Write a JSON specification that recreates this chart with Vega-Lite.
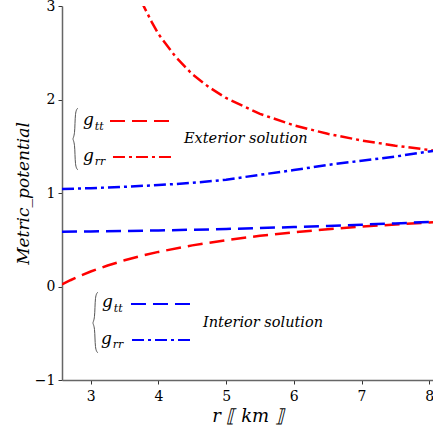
{
  "$schema": "https://vega.github.io/schema/vega-lite/v6.json",
  "width": 371,
  "height": 374,
  "autosize": {"type": "none"},
  "padding": {"left": 62, "top": 6, "right": 0, "bottom": 54},
  "background": "white",
  "config": {"view": {"stroke": null}, "font": "DejaVu Serif"},
  "datasets": {
    "curves": [
      {"sol": "Exterior", "kind": "tt", "r": 2.576, "g": 0.022},
      {"sol": "Exterior", "kind": "tt", "r": 2.7, "g": 0.067},
      {"sol": "Exterior", "kind": "tt", "r": 2.85, "g": 0.116},
      {"sol": "Exterior", "kind": "tt", "r": 3.0, "g": 0.16},
      {"sol": "Exterior", "kind": "tt", "r": 3.25, "g": 0.225},
      {"sol": "Exterior", "kind": "tt", "r": 3.5, "g": 0.28},
      {"sol": "Exterior", "kind": "tt", "r": 3.75, "g": 0.328},
      {"sol": "Exterior", "kind": "tt", "r": 4.0, "g": 0.37},
      {"sol": "Exterior", "kind": "tt", "r": 4.5, "g": 0.44},
      {"sol": "Exterior", "kind": "tt", "r": 5.0, "g": 0.496},
      {"sol": "Exterior", "kind": "tt", "r": 5.5, "g": 0.542},
      {"sol": "Exterior", "kind": "tt", "r": 6.0, "g": 0.58},
      {"sol": "Exterior", "kind": "tt", "r": 6.5, "g": 0.612},
      {"sol": "Exterior", "kind": "tt", "r": 7.0, "g": 0.64},
      {"sol": "Exterior", "kind": "tt", "r": 7.5, "g": 0.664},
      {"sol": "Exterior", "kind": "tt", "r": 8.0, "g": 0.685},
      {"sol": "Exterior", "kind": "tt", "r": 8.056, "g": 0.687},
      {"sol": "Exterior", "kind": "rr", "r": 3.74, "g": 3.06},
      {"sol": "Exterior", "kind": "rr", "r": 3.9, "g": 2.83},
      {"sol": "Exterior", "kind": "rr", "r": 4.0, "g": 2.7},
      {"sol": "Exterior", "kind": "rr", "r": 4.25, "g": 2.46},
      {"sol": "Exterior", "kind": "rr", "r": 4.5, "g": 2.27},
      {"sol": "Exterior", "kind": "rr", "r": 4.75, "g": 2.13},
      {"sol": "Exterior", "kind": "rr", "r": 5.0, "g": 2.016},
      {"sol": "Exterior", "kind": "rr", "r": 5.5, "g": 1.846},
      {"sol": "Exterior", "kind": "rr", "r": 6.0, "g": 1.724},
      {"sol": "Exterior", "kind": "rr", "r": 6.5, "g": 1.633},
      {"sol": "Exterior", "kind": "rr", "r": 7.0, "g": 1.562},
      {"sol": "Exterior", "kind": "rr", "r": 7.5, "g": 1.506},
      {"sol": "Exterior", "kind": "rr", "r": 8.0, "g": 1.46},
      {"sol": "Exterior", "kind": "rr", "r": 8.056, "g": 1.455},
      {"sol": "Interior", "kind": "tt", "r": 2.576, "g": 0.586},
      {"sol": "Interior", "kind": "tt", "r": 3.0, "g": 0.589},
      {"sol": "Interior", "kind": "tt", "r": 3.5, "g": 0.594},
      {"sol": "Interior", "kind": "tt", "r": 4.0, "g": 0.6},
      {"sol": "Interior", "kind": "tt", "r": 4.5, "g": 0.607},
      {"sol": "Interior", "kind": "tt", "r": 5.0, "g": 0.615},
      {"sol": "Interior", "kind": "tt", "r": 5.5, "g": 0.625},
      {"sol": "Interior", "kind": "tt", "r": 6.0, "g": 0.636},
      {"sol": "Interior", "kind": "tt", "r": 6.5, "g": 0.648},
      {"sol": "Interior", "kind": "tt", "r": 7.0, "g": 0.661},
      {"sol": "Interior", "kind": "tt", "r": 7.5, "g": 0.675},
      {"sol": "Interior", "kind": "tt", "r": 8.0, "g": 0.69},
      {"sol": "Interior", "kind": "tt", "r": 8.056, "g": 0.692},
      {"sol": "Interior", "kind": "rr", "r": 2.576, "g": 1.043},
      {"sol": "Interior", "kind": "rr", "r": 3.0, "g": 1.052},
      {"sol": "Interior", "kind": "rr", "r": 3.5, "g": 1.066},
      {"sol": "Interior", "kind": "rr", "r": 4.0, "g": 1.085},
      {"sol": "Interior", "kind": "rr", "r": 4.5, "g": 1.108},
      {"sol": "Interior", "kind": "rr", "r": 5.0, "g": 1.142},
      {"sol": "Interior", "kind": "rr", "r": 5.5, "g": 1.195},
      {"sol": "Interior", "kind": "rr", "r": 6.0, "g": 1.245},
      {"sol": "Interior", "kind": "rr", "r": 6.5, "g": 1.3},
      {"sol": "Interior", "kind": "rr", "r": 7.0, "g": 1.345},
      {"sol": "Interior", "kind": "rr", "r": 7.5, "g": 1.39},
      {"sol": "Interior", "kind": "rr", "r": 8.0, "g": 1.445},
      {"sol": "Interior", "kind": "rr", "r": 8.056, "g": 1.45}
    ],
    "samples": [
      {"sol": "Exterior", "kind": "tt", "r": 3.285, "g": 1.77},
      {"sol": "Exterior", "kind": "tt", "r": 4.186, "g": 1.77},
      {"sol": "Exterior", "kind": "rr", "r": 3.329, "g": 1.385},
      {"sol": "Exterior", "kind": "rr", "r": 4.186, "g": 1.385},
      {"sol": "Interior", "kind": "tt", "r": 3.595, "g": -0.187},
      {"sol": "Interior", "kind": "tt", "r": 4.481, "g": -0.187},
      {"sol": "Interior", "kind": "rr", "r": 3.61, "g": -0.572},
      {"sol": "Interior", "kind": "rr", "r": 4.467, "g": -0.572}
    ],
    "braces": [
      {"sol": "Exterior", "i": 0, "r": 2.812, "g": 1.909},
      {"sol": "Exterior", "i": 1, "r": 2.768, "g": 1.877},
      {"sol": "Exterior", "i": 2, "r": 2.768, "g": 1.61},
      {"sol": "Exterior", "i": 3, "r": 2.724, "g": 1.578},
      {"sol": "Exterior", "i": 4, "r": 2.768, "g": 1.545},
      {"sol": "Exterior", "i": 5, "r": 2.768, "g": 1.278},
      {"sol": "Exterior", "i": 6, "r": 2.812, "g": 1.246},
      {"sol": "Interior", "i": 0, "r": 3.108, "g": -0.059},
      {"sol": "Interior", "i": 1, "r": 3.063, "g": -0.091},
      {"sol": "Interior", "i": 2, "r": 3.063, "g": -0.358},
      {"sol": "Interior", "i": 3, "r": 3.019, "g": -0.39},
      {"sol": "Interior", "i": 4, "r": 3.063, "g": -0.422},
      {"sol": "Interior", "i": 5, "r": 3.063, "g": -0.679},
      {"sol": "Interior", "i": 6, "r": 3.108, "g": -0.711}
    ],
    "gs": [
      {"r": 2.886, "g": 1.781, "t": "g"},
      {"r": 2.886, "g": 1.396, "t": "g"},
      {"r": 3.167, "g": -0.166, "t": "g"},
      {"r": 3.152, "g": -0.561, "t": "g"}
    ],
    "subs": [
      {"r": 3.06, "g": 1.706, "t": "tt"},
      {"r": 3.06, "g": 1.332, "t": "rr"},
      {"r": 3.341, "g": -0.241, "t": "tt"},
      {"r": 3.326, "g": -0.626, "t": "rr"}
    ],
    "notes": [
      {"r": 4.378, "g": 1.578, "t": "Exterior solution"},
      {"r": 4.659, "g": -0.39, "t": "Interior solution"}
    ]
  },
  "layer": [
    {
      "data": {"name": "curves"},
      "mark": {"type": "line", "strokeWidth": 2.5, "clip": true},
      "encoding": {
        "x": {
          "field": "r", "type": "quantitative",
          "scale": {"domain": [2.576, 8.056], "nice": false, "zero": false},
          "axis": {
            "values": [3, 3.5, 4, 4.5, 5, 5.5, 6, 6.5, 7, 7.5, 8],
            "format": "d",
            "labelExpr": "datum.value % 1 === 0 ? datum.label : ''",
            "grid": false, "domainColor": "#666666", "domainWidth": 1.5,
            "tickColor": "#333333", "tickSize": 4, "tickWidth": 1,
            "labelFont": "DejaVu Serif", "labelFontSize": 14, "labelColor": "black", "labelPadding": 5,
            "title": "r ⟦ km ⟧", "titleFont": "DejaVu Serif", "titleFontStyle": "italic",
            "titleFontWeight": "normal", "titleFontSize": 18, "titleColor": "black", "titlePadding": 4
          }
        },
        "y": {
          "field": "g", "type": "quantitative",
          "scale": {"domain": [-1, 3], "nice": false, "zero": false},
          "axis": {
            "values": [-1, -0.5, 0, 0.5, 1, 1.5, 2, 2.5, 3],
            "format": "d",
            "labelExpr": "datum.value % 1 === 0 ? datum.label : ''",
            "grid": false, "domainColor": "#666666", "domainWidth": 1.5,
            "tickColor": "#333333", "tickSize": 4, "tickWidth": 1,
            "labelFont": "DejaVu Serif", "labelFontSize": 14, "labelColor": "black", "labelPadding": 3,
            "title": "Metric_potential", "titleFont": "DejaVu Serif", "titleFontStyle": "italic",
            "titleFontWeight": "normal", "titleFontSize": 17, "titleColor": "black",
            "titleX": -39, "titleY": 187, "titleAngle": -90, "titleAlign": "center", "titleBaseline": "middle"
          }
        },
        "color": {
          "field": "sol", "type": "nominal",
          "scale": {"domain": ["Exterior", "Interior"], "range": ["#ff0000", "#0000ff"]},
          "legend": null
        },
        "strokeDash": {
          "field": "kind", "type": "nominal",
          "scale": {"domain": ["tt", "rr"], "range": [[15, 7], [12, 4, 3, 4]]},
          "legend": null
        }
      }
    },
    {
      "data": {"name": "samples"},
      "mark": {"type": "line", "strokeWidth": 2},
      "encoding": {
        "x": {"field": "r", "type": "quantitative"},
        "y": {"field": "g", "type": "quantitative"},
        "color": {"field": "sol", "type": "nominal", "legend": null},
        "strokeDash": {"field": "kind", "type": "nominal", "legend": null}
      }
    },
    {
      "data": {"name": "braces"},
      "mark": {"type": "line", "interpolate": "basis", "color": "#555555", "strokeWidth": 1},
      "encoding": {
        "x": {"field": "r", "type": "quantitative"},
        "y": {"field": "g", "type": "quantitative"},
        "detail": {"field": "sol", "type": "nominal"},
        "order": {"field": "i", "type": "quantitative"}
      }
    },
    {
      "data": {"name": "gs"},
      "mark": {"type": "text", "font": "DejaVu Serif", "fontStyle": "italic", "fontSize": 17, "align": "left", "baseline": "middle", "color": "black"},
      "encoding": {
        "x": {"field": "r", "type": "quantitative"},
        "y": {"field": "g", "type": "quantitative"},
        "text": {"field": "t"}
      }
    },
    {
      "data": {"name": "subs"},
      "mark": {"type": "text", "font": "DejaVu Serif", "fontStyle": "italic", "fontSize": 11, "align": "left", "baseline": "middle", "color": "black"},
      "encoding": {
        "x": {"field": "r", "type": "quantitative"},
        "y": {"field": "g", "type": "quantitative"},
        "text": {"field": "t"}
      }
    },
    {
      "data": {"name": "notes"},
      "mark": {"type": "text", "font": "DejaVu Serif", "fontStyle": "italic", "fontSize": 14.5, "align": "left", "baseline": "middle", "color": "black"},
      "encoding": {
        "x": {"field": "r", "type": "quantitative"},
        "y": {"field": "g", "type": "quantitative"},
        "text": {"field": "t"}
      }
    },
    {
      "mark": {"type": "rule", "color": "#666666", "strokeWidth": 1.5},
      "encoding": {"y": {"datum": 3}}
    }
  ]
}
